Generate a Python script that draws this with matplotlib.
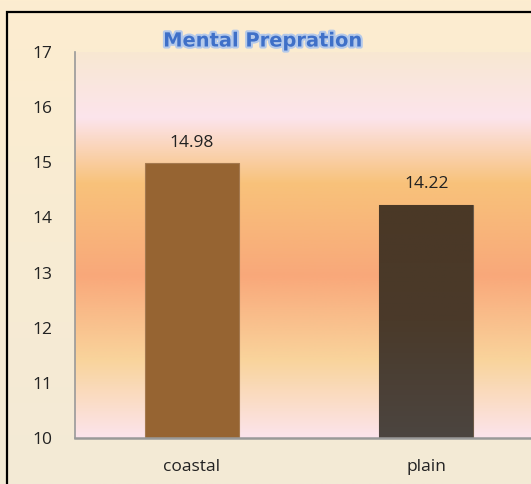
import matplotlib.pyplot as plt
import numpy as np
from matplotlib.colors import LinearSegmentedColormap
from matplotlib.patches import Rectangle
import matplotlib.patheffects as pe

categories = ["coastal", "plain"]
values = [14.98, 14.22]
bar_colors = ["#966432", "#4a3b2b"]
yticks = [10, 11, 12, 13, 14, 15, 16, 17]
title = "Mental Prepration"

plt.rcParams['font.family'] = ['Open Sans', 'DejaVu Sans']

fig = plt.figure(figsize=(5.31, 4.84), dpi=100)

# figure background: cream gradient
bg = fig.add_axes([0, 0, 1, 1], zorder=-2)
bg_cmap = LinearSegmentedColormap.from_list("bg", ["#fdedd0", "#f3ead6"])
bg.imshow(np.linspace(0, 1, 256).reshape(-1, 1), cmap=bg_cmap, aspect='auto',
          extent=(0, 1, 0, 1), origin='upper')
bg.set_axis_off()
# chart frame, runs off the right and bottom edge
bg.add_patch(Rectangle((7 / 531, -0.1), 1.2, 1 - 12 / 484 + 0.1, fill=False,
                       edgecolor="black", linewidth=1.6, transform=bg.transAxes))

ax = fig.add_axes([74.5 / 531, 46 / 484, 469 / 531, 386 / 484])
ax.set_xlim(-0.5, 1.5)
ax.set_ylim(10, 17)

# plot area gradient (top -> bottom)
stops = [(0.0, "#f8e8d2"), (0.17, "#fce4ec"), (0.34, "#f8c27a"),
         (0.58, "#f9a87a"), (0.80, "#f9d49c"), (1.0, "#fce4ec")]
pa_cmap = LinearSegmentedColormap.from_list("pa", stops)
ax.imshow(np.linspace(0, 1, 512).reshape(-1, 1), cmap=pa_cmap, aspect='auto',
          extent=(-0.5, 1.5, 10, 17), origin='upper', zorder=0)

x = np.arange(len(categories))
bars = ax.bar(x, [v - 10 for v in values], bottom=10, width=0.4,
              color=bar_colors, edgecolor=["#a5794f", "#6b5a48"],
              linewidth=0.8, zorder=2)

# the dark bar has a slight vertical shading
dark = bars[1]
shade = LinearSegmentedColormap.from_list("shade", ["#4a3826", "#4a3a2a", "#4c4540"])
im = ax.imshow(np.linspace(0, 1, 256).reshape(-1, 1), cmap=shade, aspect='auto',
               extent=(dark.get_x(), dark.get_x() + dark.get_width(), 10, values[1]),
               origin='upper', zorder=2.1)
im.set_clip_path(dark)

for xi, v in zip(x, values):
    ax.annotate(f"{v:.2f}", (xi, v), xytext=(0, 15), textcoords="offset points",
                ha="center", va="center", fontsize=12.5, color="#222222")

ax.set_xticks(x)
ax.set_xticklabels(categories, fontsize=12.5, color="#222222")
ax.set_yticks(yticks)
ax.set_yticklabels([str(t) for t in yticks], fontsize=12.5, color="#222222")
ax.tick_params(axis='both', length=0)
ax.tick_params(axis='y', pad=16)
ax.tick_params(axis='x', pad=15)

for s in ["top", "right"]:
    ax.spines[s].set_visible(False)
ax.spines["left"].set_color("#999999")
ax.spines["left"].set_linewidth(1.2)
ax.spines["bottom"].set_color("#999999")
ax.spines["bottom"].set_linewidth(1.8)
ax.spines["left"].set_zorder(3)
ax.spines["bottom"].set_zorder(3)

fig.text(263 / 531, 1 - 41 / 484, title, ha="center", va="center",
         fontsize=14, fontweight="bold", color="#3f70c8", family="DejaVu Sans",
         path_effects=[pe.withStroke(linewidth=3, foreground="#b4c9ea")])

fig.savefig("out.png", dpi=100)
